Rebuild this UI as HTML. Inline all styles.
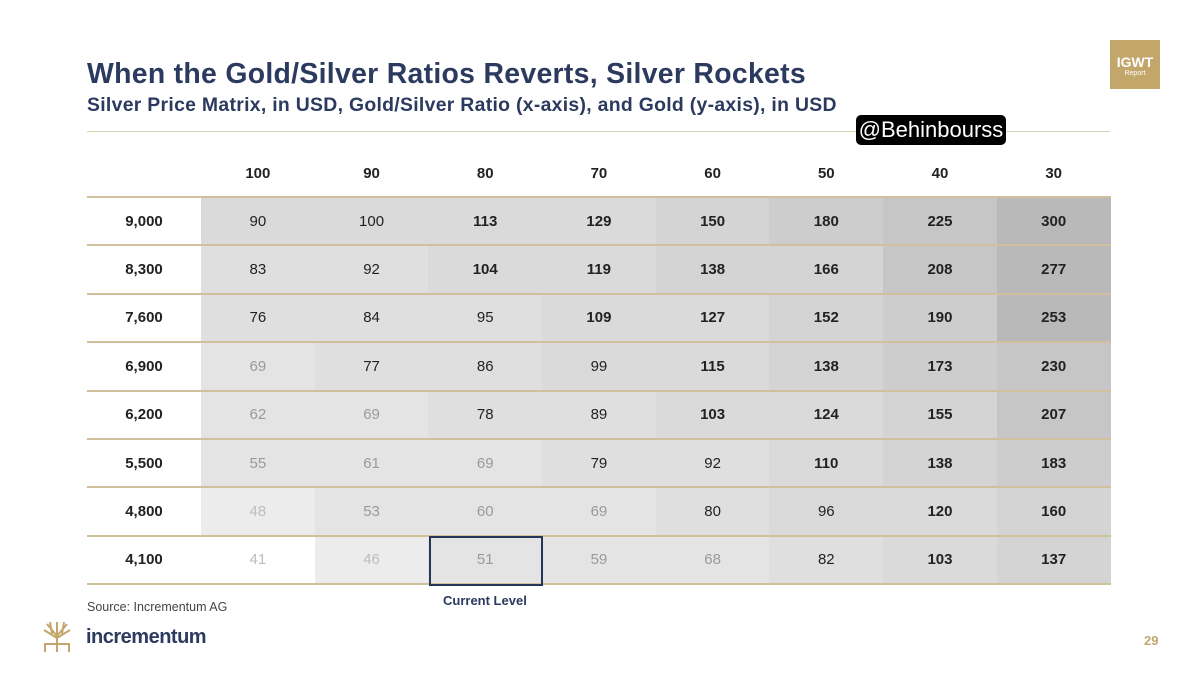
<!DOCTYPE html>
<html><head><meta charset="utf-8"><style>
*{margin:0;padding:0;box-sizing:border-box}
body{width:1200px;height:675px;background:#fff;font-family:"Liberation Sans",Arial,sans-serif;position:relative;overflow:hidden}
.t1{position:absolute;left:87px;top:58px;font-size:28.4px;font-weight:bold;color:#2b3a5e;letter-spacing:0.3px}
.t2{position:absolute;left:87px;top:94px;font-size:19.4px;font-weight:bold;color:#2b3a5e;letter-spacing:0.3px}
.logo{position:absolute;left:1110px;top:40px;width:50px;height:49px;background:#c2a66a;color:#fff;text-align:center}
.logo b{display:block;font-size:14px;margin-top:14px}
.logo i{display:block;font-style:normal;font-size:7px}
.badge{position:absolute;left:856px;top:115px;width:150px;height:30px;background:#000;border-radius:5px;color:#fff;font-size:22px;line-height:30px;text-align:center}
.topline{position:absolute;left:87px;top:131px;width:1023px;height:1px;background:#d9d2b3}
table{position:absolute;left:87px;top:151px;border-collapse:collapse;table-layout:fixed}
td{width:113.7px;height:48.4px;text-align:center;font-size:15px;color:#222;border-bottom:2px solid #cfc29a}
td.y{width:114px;font-weight:bold;background:#fff}
tr.h td{height:46px;font-weight:bold;background:#fff}
.B{font-weight:bold}
.g1{color:#bdbdbd}.g2{color:#9a9a9a}
.w{background:#fff}.a{background:#ececec}.b{background:#e4e4e4}.c{background:#dfdfdf}.d{background:#dadada}.e{background:#d4d4d4}.f{background:#cdcdcd}.g{background:#c6c6c6}.h{background:#b9b9b9}
.cur{position:absolute;left:429px;top:536px;width:114px;height:50px;border:2px solid #253659}
.cl{position:absolute;left:443px;top:593px;font-size:13px;font-weight:bold;color:#2b3a5e}
.src{position:absolute;left:87px;top:600px;font-size:12.5px;color:#444}
.inc{position:absolute;left:86px;top:626px;font-size:20px;font-weight:bold;color:#2b3a5e;letter-spacing:-0.5px}
.tree{position:absolute;left:42px;top:622px;width:30px;height:30px}
.pg{position:absolute;left:1144px;top:633px;font-size:13px;font-weight:bold;color:#c2a66a}
</style></head><body>
<div class="t1">When the Gold/Silver Ratios Reverts, Silver Rockets</div>
<div class="t2">Silver Price Matrix, in USD, Gold/Silver Ratio (x-axis), and Gold (y-axis), in USD</div>
<div class="logo"><b>IGWT</b><i>Report</i></div>
<div class="topline"></div>
<div class="badge">@Behinbourss</div>
<table>
<tr class="h"><td class="y"></td><td>100</td><td>90</td><td>80</td><td>70</td><td>60</td><td>50</td><td>40</td><td>30</td></tr>
<tr><td class="y">9,000</td><td class="d">90</td><td class="d">100</td><td class="d B">113</td><td class="d B">129</td><td class="e B">150</td><td class="f B">180</td><td class="g B">225</td><td class="h B">300</td></tr>
<tr><td class="y">8,300</td><td class="c">83</td><td class="c">92</td><td class="d B">104</td><td class="d B">119</td><td class="e B">138</td><td class="e B">166</td><td class="g B">208</td><td class="h B">277</td></tr>
<tr><td class="y">7,600</td><td class="c">76</td><td class="c">84</td><td class="c">95</td><td class="d B">109</td><td class="d B">127</td><td class="e B">152</td><td class="f B">190</td><td class="h B">253</td></tr>
<tr><td class="y">6,900</td><td class="b g2">69</td><td class="c">77</td><td class="c">86</td><td class="d">99</td><td class="d B">115</td><td class="e B">138</td><td class="f B">173</td><td class="g B">230</td></tr>
<tr><td class="y">6,200</td><td class="b g2">62</td><td class="b g2">69</td><td class="c">78</td><td class="c">89</td><td class="d B">103</td><td class="d B">124</td><td class="e B">155</td><td class="g B">207</td></tr>
<tr><td class="y">5,500</td><td class="b g2">55</td><td class="b g2">61</td><td class="b g2">69</td><td class="c">79</td><td class="c">92</td><td class="d B">110</td><td class="e B">138</td><td class="f B">183</td></tr>
<tr><td class="y">4,800</td><td class="a g1">48</td><td class="b g2">53</td><td class="b g2">60</td><td class="b g2">69</td><td class="c">80</td><td class="d">96</td><td class="d B">120</td><td class="e B">160</td></tr>
<tr><td class="y">4,100</td><td class="w g1">41</td><td class="a g1">46</td><td class="b g2">51</td><td class="b g2">59</td><td class="b g2">68</td><td class="c">82</td><td class="d B">103</td><td class="e B">137</td></tr>
</table>
<div class="cur"></div>
<div class="cl">Current Level</div>
<div class="src">Source: Incrementum AG</div>
<svg class="tree" viewBox="0 0 30 30"><g stroke="#c2a66a" stroke-width="2" fill="none"><path d="M15 30V12M15 14L5 2M15 14L25 2M15 16L2 8M15 16L28 8M15 12V0M10 12L8 0M20 12L22 0"/><path d="M2 22H28M3 22V30M27 22V30"/></g></svg>
<div class="inc">incrementum</div>
<div class="pg">29</div>
</body></html>
